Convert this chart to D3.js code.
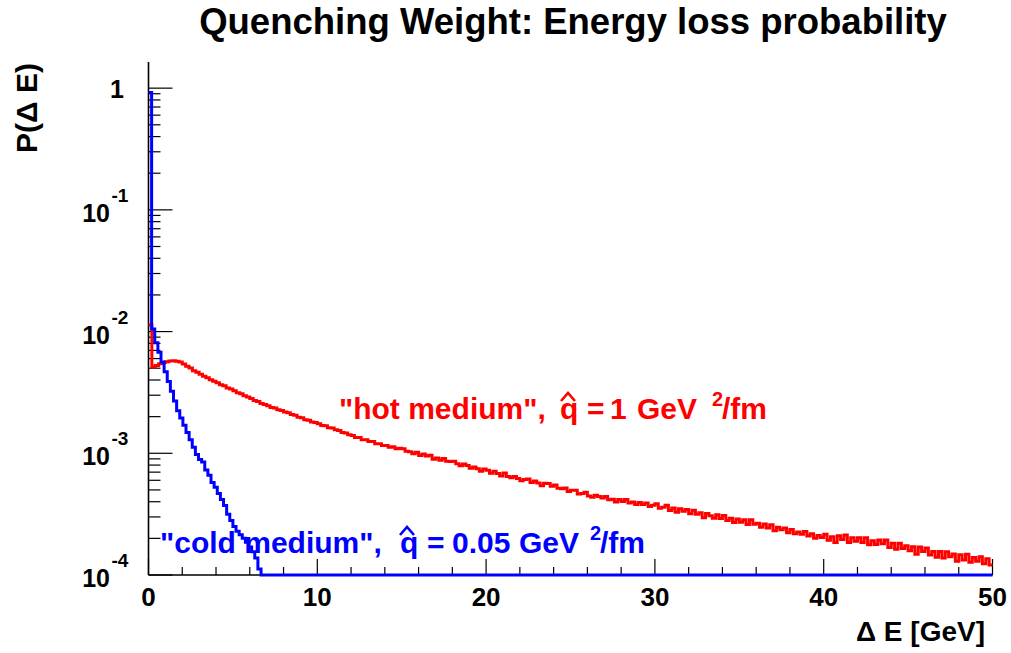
<!DOCTYPE html>
<html><head><meta charset="utf-8">
<script src="https://cdn.jsdelivr.net/npm/d3@7"></script>
<style>
body{margin:0;background:#fff}
svg{display:block}
text{font-family:"Liberation Sans",Arial,Helvetica,sans-serif;font-weight:bold}
</style>
</head><body>
<svg id="chart" width="1011" height="653"></svg>
<script>
// ---------------- data ----------------
const titleText = "Quenching Weight: Energy loss probability";
const xTitle = "\u0394 E [GeV]";
const yTitle = "P(\u0394 E)";
const xDomain = [0, 50];
const yDomain = [1e-4, 1.64];
const xMajorTicks = [0, 10, 20, 30, 40, 50];
const xTickLabels = ["0", "10", "20", "30", "40", "50"];
const yMajorTicks = [1e-4, 1e-3, 1e-2, 1e-1, 1];
const yTickBases = ["10", "10", "10", "10", "1"];
const yTickExponents = ["-4", "-3", "-2", "-1", ""];
const UNIT = 1e-4; // histogram contents below are in units of 1e-4

// "hot medium" (qhat = 1 GeV^2/fm), 250 bins of 0.2 GeV
const hotValues = [
 113, 51.2, 52.6, 54.3, 55.6,   56.4, 57.3, 57.6, 57.0, 56.2,
 54.2, 51.8, 50.1, 47.7, 46.3,  44.6, 42.9, 41.8, 40.2, 39.1,
 38.0, 36.6, 35.9, 34.4, 33.7,  32.7, 31.5, 30.9, 29.7, 29.0,
 28.2, 27.2, 26.7, 25.6, 25.2,  24.6, 23.8, 23.5, 22.8, 22.5,
 21.8, 21.5, 20.8, 20.5, 19.8,  19.6, 18.9, 18.7, 18.1, 17.9,
 17.5, 16.9, 16.8, 16.2, 16.1,  15.6, 15.4, 14.8, 14.7, 14.2,
 14.0, 13.5, 13.5, 12.9, 12.9,  12.5, 12.5, 12.0, 12.0, 11.6,
 11.6, 11.2, 11.3, 10.9, 11.0,  10.9, 10.4, 10.3, 9.89, 10.2,
 9.61, 9.85, 9.50, 9.63, 8.92,  9.15, 8.75, 9.07, 8.60, 8.57,
 8.60, 8.20, 7.90, 8.15, 7.92,  7.55, 7.73, 7.46, 7.12, 7.44,
 7.25, 6.87, 7.12, 6.82, 6.52,  6.90, 6.45, 6.29, 6.45, 6.22,
 5.95, 6.10, 6.14, 5.75, 5.91,  5.71, 5.41, 5.67, 5.64, 5.36,
 5.49, 5.15, 5.11, 5.18, 4.85,  4.96, 4.97, 4.62, 4.68, 4.79,
 4.45, 4.36, 4.53, 4.42, 4.29,  4.42, 4.16, 4.19, 3.97, 4.18,
 4.01, 4.18, 3.90, 3.98, 3.79,  3.95, 3.80, 3.91, 3.66, 3.74,
 3.85, 3.54, 3.61, 3.75, 3.39,  3.56, 3.28, 3.51, 3.34, 3.46,
 3.19, 3.41, 3.16, 3.24, 2.96,  3.20, 3.07, 2.92, 3.12, 2.91,
 3.08, 2.81, 2.93, 2.70, 2.89,  2.71, 2.85, 2.60, 2.84, 2.61,
 2.66, 2.47, 2.62, 2.43, 2.59,  2.31, 2.47, 2.35, 2.43, 2.22,
 2.37, 2.18, 2.26, 2.16, 2.28,  2.09, 2.18, 2.00, 2.11, 2.03,
 2.16, 1.93, 2.06, 1.85, 2.10,  1.96, 2.13, 1.85, 2.02, 1.89,
 2.02, 1.85, 2.02, 1.77, 1.91,  1.78, 1.94, 1.81, 1.94, 1.68,
 1.82, 1.63, 1.82, 1.65, 1.74,  1.58, 1.71, 1.48, 1.70, 1.56,
 1.67, 1.46, 1.56, 1.40, 1.56,  1.38, 1.55, 1.41, 1.49, 1.30,
 1.47, 1.33, 1.48, 1.27, 1.39,  1.30, 1.41, 1.24, 1.36, 1.21
];

// "cold medium" (qhat = 0.05 GeV^2/fm), 250 bins of 0.2 GeV
const coldValues = [
 9200, 105, 81.0, 67.6, 56.2,   46.8, 38.9, 32.4, 26.9, 22.4,
 19.5, 17.0, 14.8, 12.9, 11.2,  9.77, 8.91, 8.50, 7.30, 6.61,
 5.75, 5.25, 4.68, 4.17, 3.72,  3.16, 2.80, 2.50, 2.29, 2.14,
 2.00, 1.86, 1.70, 1.55, 1.38,  1.12, 0, 0, 0, 0,
 0,0,0,0,0, 0,0,0,0,0,  0,0,0,0,0, 0,0,0,0,0,
 0,0,0,0,0, 0,0,0,0,0,  0,0,0,0,0, 0,0,0,0,0,
 0,0,0,0,0, 0,0,0,0,0,  0,0,0,0,0, 0,0,0,0,0,
 0,0,0,0,0, 0,0,0,0,0,  0,0,0,0,0, 0,0,0,0,0,
 0,0,0,0,0, 0,0,0,0,0,  0,0,0,0,0, 0,0,0,0,0,
 0,0,0,0,0, 0,0,0,0,0,  0,0,0,0,0, 0,0,0,0,0,
 0,0,0,0,0, 0,0,0,0,0,  0,0,0,0,0, 0,0,0,0,0,
 0,0,0,0,0, 0,0,0,0,0,  0,0,0,0,0, 0,0,0,0,0,
 0,0,0,0,0, 0,0,0,0,0,  0,0,0,0,0, 0,0,0,0,0,
 0,0,0,0,0, 0,0,0,0,0,  0,0,0,0,0, 0,0,0,0,0,
 0,0,0,0,0, 0,0,0,0,0,  0,0,0,0,0, 0,0,0,0,0,
 0,0,0,0,0, 0,0,0,0,0
];

const seriesNames = ["\"hot medium\",", "\"cold medium\","];
const qhatValues = ["1", "0.05"];
const seriesColors = ["#ff0000", "#0000ff"];

// ---------------- drawing ----------------
const svg = d3.select("#chart");
const x = d3.scaleLinear().domain(xDomain).range([148.5, 992.5]);
const y = d3.scaleLog().domain(yDomain).range([575, 62]);
const yv = v => y(Math.max(v, yDomain[0]));

// title
svg.append("text").attr("x", 573).attr("y", 34).attr("text-anchor", "middle")
  .attr("font-size", 36.5).text(titleText);

// axes
const axes = svg.append("g").attr("stroke", "#000");
axes.append("line").attr("x1", x(xDomain[0])).attr("x2", x(xDomain[0]))
  .attr("y1", y(yDomain[0])).attr("y2", y(yDomain[1])).attr("stroke-width", 1.6);
axes.append("line").attr("x1", x(xDomain[0])).attr("x2", x(xDomain[1]))
  .attr("y1", y(yDomain[0])).attr("y2", y(yDomain[0])).attr("stroke-width", 1.6);

// x ticks
const xMinor = d3.range(xDomain[0], xDomain[1] + 0.001, 2);
xMinor.forEach(v => {
  const major = xMajorTicks.includes(v);
  axes.append("line").attr("x1", x(v)).attr("x2", x(v))
    .attr("y1", y(yDomain[0])).attr("y2", y(yDomain[0]) - (major ? 16 : 8))
    .attr("stroke-width", 1.2);
});
xMajorTicks.forEach((v, i) => {
  svg.append("text").attr("x", x(v)).attr("y", 606).attr("text-anchor", "middle")
    .attr("font-size", 26).text(xTickLabels[i]);
});

// y ticks
const yMinor = [];
for (let e = -4; e <= 0; e++) for (let m = 1; m <= 9; m++) {
  const v = m * Math.pow(10, e);
  if (v >= yDomain[0] && v <= yDomain[1]) yMinor.push(v);
}
yMinor.forEach(v => {
  const major = yMajorTicks.some(t => Math.abs(t - v) / t < 1e-9);
  axes.append("line").attr("x1", x(xDomain[0])).attr("x2", x(xDomain[0]) + (major ? 24 : 12))
    .attr("y1", y(v)).attr("y2", y(v)).attr("stroke-width", 1.2);
});
yMajorTicks.forEach((v, i) => {
  const yy = y(v);
  if (yTickExponents[i] === "") {
    svg.append("text").attr("x", 124).attr("y", yy + 10).attr("text-anchor", "end")
      .attr("font-size", 25).text(yTickBases[i]);
  } else {
    svg.append("text").attr("x", 110).attr("y", yy + 12).attr("text-anchor", "end")
      .attr("font-size", 25).text(yTickBases[i]);
    svg.append("text").attr("x", 111.5).attr("y", yy - 8).attr("text-anchor", "start")
      .attr("font-size", 19).text(yTickExponents[i]);
  }
});

// axis titles
svg.append("text").attr("x", 985).attr("y", 641).attr("text-anchor", "end")
  .attr("font-size", 28).text(xTitle);
svg.append("text").attr("transform", "translate(37,63) rotate(-90)")
  .attr("text-anchor", "end").attr("font-size", 30).text(yTitle);

// histograms
function histPoints(vals) {
  const n = vals.length, w = (xDomain[1] - xDomain[0]) / n, pts = [];
  vals.forEach((v, i) => {
    pts.push([xDomain[0] + i * w, v * UNIT]);
    pts.push([xDomain[0] + (i + 1) * w, v * UNIT]);
  });
  return pts;
}
const line = d3.line().x(d => x(d[0])).y(d => yv(d[1]));
[hotValues, coldValues].forEach((vals, k) => {
  svg.append("path").attr("d", line(histPoints(vals)))
    .attr("fill", "none").attr("stroke", seriesColors[k]).attr("stroke-width", 3)
    .attr("stroke-linejoin", "miter").attr("stroke-linecap", "butt");
});

// labels
const labelLayout = [
  {base: 419, name: 339, q: 560, eq: 587, val: 610, gev: 637, sup: 712, fm: 722, hat: 568, size: 30},
  {base: 553, name: 160, q: 400, eq: 427, val: 452, gev: 519, sup: 590, fm: 600, hat: 407, size: 30}
];
labelLayout.forEach((L, k) => {
  const g = svg.append("g").attr("fill", seriesColors[k]).attr("font-size", L.size);
  g.append("text").attr("x", L.name).attr("y", L.base).text(seriesNames[k]);
  g.append("text").attr("x", L.q).attr("y", L.base).text("q");
  g.append("text").attr("x", L.eq).attr("y", L.base).text("=");
  g.append("text").attr("x", L.val).attr("y", L.base).text(qhatValues[k]);
  g.append("text").attr("x", L.gev).attr("y", L.base).text("GeV");
  g.append("text").attr("x", L.sup).attr("y", L.base - 13).attr("font-size", 20).text("2");
  g.append("text").attr("x", L.fm).attr("y", L.base).text("/fm");
  g.append("path")
    .attr("d", `M${L.hat - 7},${L.base - 18} L${L.hat},${L.base - 26} L${L.hat + 7},${L.base - 18}`)
    .attr("fill", "none").attr("stroke", seriesColors[k]).attr("stroke-width", 2.6);
});
</script>
</body></html>
